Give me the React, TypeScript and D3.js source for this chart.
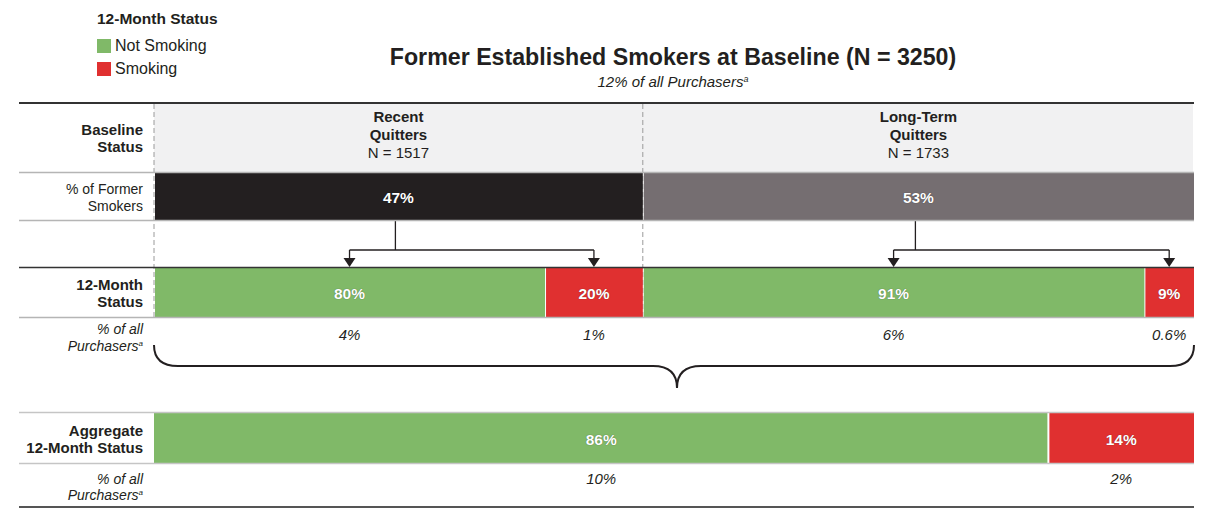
import React from "react";
import * as d3 from "d3";

const groupTitles = [["Recent", "Quitters"], ["Long-Term", "Quitters"]];
const groupN = [1517, 1733];
const groupShare = [47, 53];
const notSmokingPct = [80, 91];
const smokingPct = [20, 9];
const notSmokingPurch = ["4%", "6%"];
const smokingPurch = ["1%", "0.6%"];
const aggregatePct = [86, 14];
const aggregatePurch = ["10%", "2%"];
const totalN = 3250;
const totalPurch = "12%";

const FONT = "'Liberation Sans', Arial, Helvetica, sans-serif";
const DARK = "#231f20";
const GREEN = "#80b968";
const RED = "#e03030";
const GROUP_COLORS = ["#231f20", "#756e71"];

export default function App() {
  const W = 1212, H = 508;
  const lineX0 = 19, lineX1 = 1194;
  const x = d3.scaleLinear().domain([0, 100]).range([154, 1194]);

  const cum = d3.cumsum(groupShare);
  const parents = groupShare.map((v, i) => {
    const a = i === 0 ? 0 : cum[i - 1];
    return { x0: x(a), x1: x(a + v), v, i };
  });
  const children = parents.map((p) => {
    const cx = d3.scaleLinear().domain([0, 100]).range([p.x0, p.x1]);
    const ns = notSmokingPct[p.i];
    return {
      green: { x0: cx(0), x1: cx(ns) },
      red: { x0: cx(ns), x1: cx(100) },
    };
  });
  const agg = {
    green: { x0: x(0), x1: x(aggregatePct[0]) },
    red: { x0: x(aggregatePct[0]), x1: x(100) },
  };
  const mid = (s: { x0: number; x1: number }) => (s.x0 + s.x1) / 2;

  const rowLabel = (lines: string[], ys: number[], opts: any = {}) => (
    <text textAnchor="end" fontFamily={FONT} fill={DARK} {...opts}>
      {lines.map((l, k) => (
        <tspan key={k} x={143} y={ys[k]}>{l}</tspan>
      ))}
    </text>
  );

  const purchLabel = (ys: number[]) => (
    <text textAnchor="end" fontFamily={FONT} fill={DARK} fontStyle="italic" fontSize={14}>
      <tspan x={143} y={ys[0]}>% of all</tspan>
      <tspan x={143} y={ys[1]}>Purchasers</tspan>
      <tspan fontSize={8} dy={-5}>a</tspan>
    </text>
  );

  const barText = (cx: number, y: number, t: string) => (
    <text x={cx} y={y} textAnchor="middle" fontFamily={FONT} fontWeight="bold" fontSize={15.5} fill="#fff"
      style={{ textShadow: "0 0 1px rgba(0,0,0,0.5)" }}>{t}</text>
  );

  const bL = x.range()[0], bR = x.range()[1];
  const braceTop = 345, braceY = 366, braceTip = 388, r = 24;
  const braceCx = 677;
  const bracePath = `M${bL},${braceTop} Q${bL},${braceY} ${bL + r},${braceY} L${braceCx - r},${braceY} Q${braceCx},${braceY} ${braceCx},${braceTip} Q${braceCx},${braceY} ${braceCx + r},${braceY} L${bR - r},${braceY} Q${bR},${braceY} ${bR},${braceTop}`;

  return (
    <div style={{ position: "absolute", left: 0, top: 0 }}>
      <svg width={W} height={H} style={{ display: "block" }}>
        <rect width={W} height={H} fill="#fff" />
        {/* legend */}
        <text x={97} y={24} fontFamily={FONT} fontWeight="bold" fontSize={15.5} fill={DARK}>12-Month Status</text>
        <rect x={97} y={39} width={14} height={14} fill={GREEN} />
        <text x={115} y={51} fontFamily={FONT} fontSize={16} fill={DARK}>Not Smoking</text>
        <rect x={97} y={62} width={14} height={14} fill={RED} />
        <text x={115} y={74} fontFamily={FONT} fontSize={16} fill={DARK}>Smoking</text>

        {/* title */}
        <text x={673} y={65} textAnchor="middle" fontFamily={FONT} fontWeight="bold" fontSize={23.2} fill={DARK}>
          {`Former Established Smokers at Baseline (N = ${totalN})`}
        </text>
        <text x={673} y={87} textAnchor="middle" fontFamily={FONT} fontStyle="italic" fontSize={15} fill={DARK}>
          {`${totalPurch} of all Purchasers`}
          <tspan fontSize={9} dy={-5}>a</tspan>
        </text>

        {/* header fill */}
        <rect x={bL} y={103} width={bR - bL - 1} height={69} fill="#f1f1f2" />

        {/* dashed separators */}
        {[bL, parents[0].x1].map((dx, k) => (
          <line key={k} x1={dx} x2={dx} y1={104} y2={318} stroke="#9a9a9a" strokeWidth={1} strokeDasharray="5,3" />
        ))}

        {/* header texts */}
        {parents.map((p) => (
          <text key={p.i} textAnchor="middle" fontFamily={FONT} fontSize={15} fill={DARK}>
            <tspan x={mid(p)} y={122} fontWeight="bold">{groupTitles[p.i][0]}</tspan>
            <tspan x={mid(p)} y={140} fontWeight="bold">{groupTitles[p.i][1]}</tspan>
            <tspan x={mid(p)} y={158}>{`N = ${groupN[p.i]}`}</tspan>
          </text>
        ))}

        {/* parent bars */}
        {parents.map((p) => (
          <g key={p.i}>
            <rect x={p.x0 + 1} y={173} width={p.x1 - p.x0 - 1} height={47} fill={GROUP_COLORS[p.i]} />
            {barText(mid(p), 203, `${p.v}%`)}
          </g>
        ))}

        {/* arrows */}
        {parents.map((p) => {
          const c = children[p.i];
          const gx = mid(c.green), rx = mid(c.red);
          const px = mid(p) - 3;
          return (
            <g key={p.i} stroke={DARK} strokeWidth={1.3} fill="none">
              <line x1={px} x2={px} y1={221} y2={250} />
              <line x1={gx} x2={rx} y1={250} y2={250} />
              <line x1={gx} x2={gx} y1={250} y2={259} />
              <line x1={rx} x2={rx} y1={250} y2={259} />
              <path d={`M${gx - 6},258 L${gx + 6},258 L${gx},267 Z`} fill={DARK} stroke="none" />
              <path d={`M${rx - 6},258 L${rx + 6},258 L${rx},267 Z`} fill={DARK} stroke="none" />
            </g>
          );
        })}

        {/* 12-month bars */}
        {children.map((c, i) => (
          <g key={i}>
            <rect x={c.green.x0 + 1} y={268} width={c.green.x1 - c.green.x0 - 1} height={49} fill={GREEN} />
            <rect x={c.red.x0 + 1} y={268} width={c.red.x1 - c.red.x0 - 1} height={49} fill={RED} />
            {barText(mid(c.green), 299, `${notSmokingPct[i]}%`)}
            {barText(mid(c.red), 299, `${smokingPct[i]}%`)}
            <text x={mid(c.green)} y={340} textAnchor="middle" fontFamily={FONT} fontStyle="italic" fontSize={15} fill={DARK}>{notSmokingPurch[i]}</text>
            <text x={mid(c.red)} y={340} textAnchor="middle" fontFamily={FONT} fontStyle="italic" fontSize={15} fill={DARK}>{smokingPurch[i]}</text>
          </g>
        ))}

        {/* brace */}
        <path d={bracePath} fill="none" stroke={DARK} strokeWidth={2} />

        {/* aggregate */}
        <rect x={agg.green.x0} y={413} width={agg.green.x1 - agg.green.x0 - 1} height={50} fill={GREEN} />
        <rect x={agg.red.x0 + 1} y={413} width={agg.red.x1 - agg.red.x0 - 1} height={50} fill={RED} />
        {barText(mid(agg.green), 445, `${aggregatePct[0]}%`)}
        {barText(mid(agg.red), 445, `${aggregatePct[1]}%`)}
        <text x={mid(agg.green)} y={484} textAnchor="middle" fontFamily={FONT} fontStyle="italic" fontSize={15} fill={DARK}>{aggregatePurch[0]}</text>
        <text x={mid(agg.red)} y={484} textAnchor="middle" fontFamily={FONT} fontStyle="italic" fontSize={15} fill={DARK}>{aggregatePurch[1]}</text>

        {/* horizontal rules */}
        <line x1={lineX0} x2={lineX1} y1={103} y2={103} stroke="#333" strokeWidth={2} />
        <line x1={lineX0} x2={lineX1} y1={172.5} y2={172.5} stroke="#b5b5b5" strokeWidth={1.5} />
        <line x1={lineX0} x2={lineX1} y1={220.5} y2={220.5} stroke="#b5b5b5" strokeWidth={1.5} />
        <line x1={lineX0} x2={lineX1} y1={267.5} y2={267.5} stroke="#333" strokeWidth={1.5} />
        <line x1={lineX0} x2={lineX1} y1={317.5} y2={317.5} stroke="#b5b5b5" strokeWidth={1.5} />
        <line x1={lineX0} x2={lineX1} y1={412.5} y2={412.5} stroke="#c5c5c5" strokeWidth={1.5} />
        <line x1={lineX0} x2={lineX1} y1={463.5} y2={463.5} stroke="#c5c5c5" strokeWidth={1.5} />
        <line x1={lineX0} x2={lineX1} y1={507} y2={507} stroke="#555" strokeWidth={2} />

        {/* row labels */}
        {rowLabel(["Baseline", "Status"], [135, 152], { fontWeight: "bold", fontSize: 15 })}
        {rowLabel(["% of Former", "Smokers"], [194, 211], { fontSize: 14 })}
        {rowLabel(["12-Month", "Status"], [290, 307], { fontWeight: "bold", fontSize: 15 })}
        {purchLabel([334, 351])}
        {rowLabel(["Aggregate", "12-Month Status"], [436, 453], { fontWeight: "bold", fontSize: 15 })}
        {purchLabel([484, 500])}
      </svg>
    </div>
  );
}
